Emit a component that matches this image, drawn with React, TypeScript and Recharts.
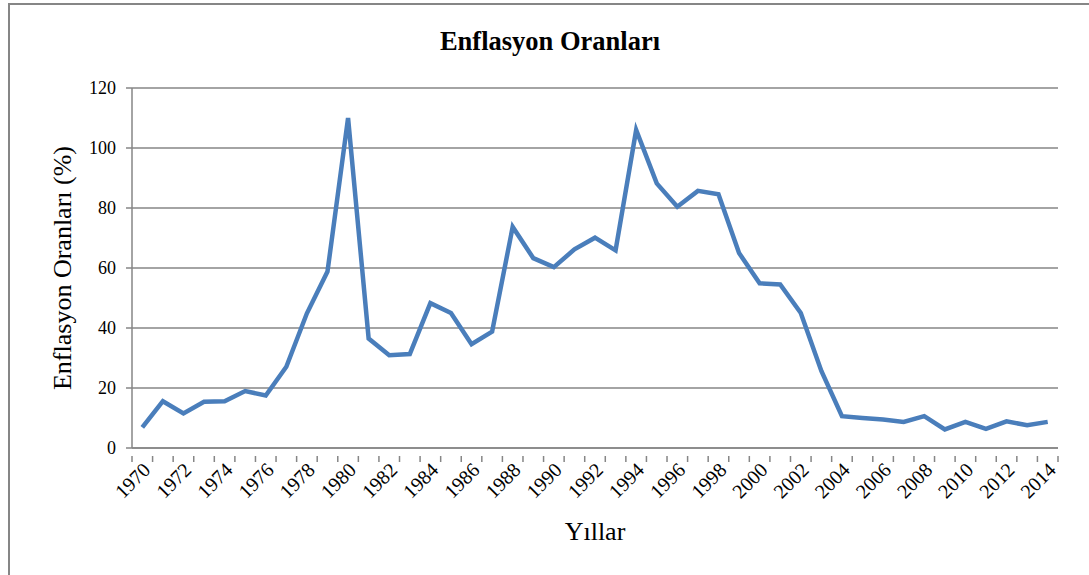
import React from 'react';
import { LineChart, Line, XAxis, YAxis, CartesianGrid, Label } from 'recharts';

const years = [
  1970, 1971, 1972, 1973, 1974, 1975, 1976, 1977, 1978, 1979,
  1980, 1981, 1982, 1983, 1984, 1985, 1986, 1987, 1988, 1989,
  1990, 1991, 1992, 1993, 1994, 1995, 1996, 1997, 1998, 1999,
  2000, 2001, 2002, 2003, 2004, 2005, 2006, 2007, 2008, 2009,
  2010, 2011, 2012, 2013, 2014,
];

const inflation = [
  6.9, 15.6, 11.5, 15.4, 15.6, 19.0, 17.5, 27.1, 44.9, 58.8,
  110.0, 36.5, 30.9, 31.3, 48.3, 45.0, 34.6, 38.8, 73.7, 63.3,
  60.3, 66.2, 70.1, 65.9, 106.0, 88.2, 80.4, 85.7, 84.6, 65.0,
  54.9, 54.5, 45.0, 25.7, 10.6, 10.0, 9.5, 8.7, 10.6, 6.2,
  8.7, 6.4, 8.9, 7.6, 8.7,
];

const yTicks = [0, 20, 40, 60, 80, 100, 120];

// tick positions: category boundaries (x.5) carry tick marks, even years carry labels
const xTicks: number[] = [];
for (let i = 0; i <= years.length; i++) {
  xTicks.push(years[0] - 0.5 + i);
  if (i < years.length && years[i] % 2 === 0) xTicks.push(years[i]);
}

const data = years.map((y, i) => ({ year: y, value: inflation[i] }));

const FONT = '"Liberation Serif", "Times New Roman", serif';
const AXIS_GRAY = '#868686';

const XTick = (props: any) => {
  const { x, y, payload } = props;
  const v = payload.value;
  if (!Number.isInteger(v)) {
    return <line x1={x} x2={x} y1={y} y2={y + 6} stroke={AXIS_GRAY} strokeWidth={1.5} />;
  }
  return (
    <g transform={`translate(${x + 5},${y + 11})`}>
      <text
        transform="rotate(-45)"
        textAnchor="end"
        fontFamily={FONT}
        fontSize={20}
        fill="#000"
        dy={6}
      >
        {v}
      </text>
    </g>
  );
};

export default function App() {
  return (
    <div style={{ position: 'absolute', left: 0, top: 0, width: 1089, height: 575, background: '#fff', overflow: 'hidden', fontFamily: FONT }}>
      <div
        style={{
          position: 'absolute', left: 8, top: 3, width: 1100, height: 600,
          border: `2px solid ${AXIS_GRAY}`, boxSizing: 'border-box',
        }}
      />
      <div
        style={{
          position: 'absolute', left: 0, top: 26, width: 1100, textAlign: 'center',
          fontFamily: FONT, fontWeight: 'bold', fontSize: 26.5, color: '#000',
        }}
      >
        Enflasyon Oranları
      </div>
      <LineChart
        width={1089}
        height={575}
        data={data}
        margin={{ top: 88, right: 31, left: 12, bottom: 20 }}
        style={{ position: 'absolute', left: 0, top: 0, fontFamily: FONT }}
      >
        <CartesianGrid vertical={false} stroke={AXIS_GRAY} strokeWidth={1.5} />
        <XAxis
          dataKey="year"
          type="number"
          domain={[years[0] - 0.5, years[years.length - 1] + 0.5]}
          ticks={xTicks}
          interval={0}
          tick={<XTick />}
          tickLine={false}
          axisLine={{ stroke: AXIS_GRAY, strokeWidth: 1.5 }}
          height={107}
        >
          <Label
            value="Yıllar"
            position="insideBottom"
            offset={15}
            style={{ fontFamily: FONT, fontSize: 26, fill: '#000' }}
          />
        </XAxis>
        <YAxis
          domain={[0, 120]}
          ticks={yTicks}
          width={120}
          tickSize={6}
          tickMargin={10}
          tick={{ fill: '#000', fontFamily: FONT, fontSize: 18 }}
          tickLine={{ stroke: AXIS_GRAY, strokeWidth: 1.5 }}
          axisLine={{ stroke: AXIS_GRAY, strokeWidth: 1.5 }}
        >
          <Label
            value="Enflasyon Oranları (%)"
            angle={-90}
            position="insideLeft"
            offset={50}
            style={{ fontFamily: FONT, fontSize: 26, fill: '#000', textAnchor: 'middle' }}
          />
        </YAxis>
        <Line
          type="linear"
          dataKey="value"
          stroke="#4a7ebb"
          strokeWidth={4.5}
          dot={false}
          isAnimationActive={false}
        />
      </LineChart>
    </div>
  );
}
